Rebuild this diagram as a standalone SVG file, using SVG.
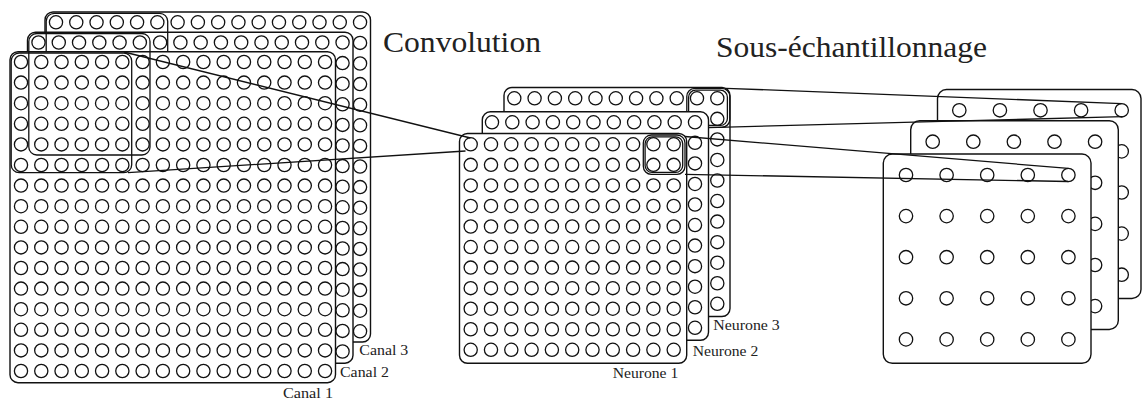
<svg xmlns="http://www.w3.org/2000/svg" xmlns:xlink="http://www.w3.org/1999/xlink" width="1142" height="401" viewBox="0 0 1142 401">
<style>
.c{fill:none;stroke:#111;stroke-width:1.3}
.layer{fill:#fff;stroke:#111;stroke-width:1.4}
.win{fill:none;stroke:#111;stroke-width:1.3}
.ln{fill:none;stroke:#111;stroke-width:1.3}
.t{font-family:"Liberation Serif","DejaVu Serif",serif;fill:#222}
.big{font-size:29.5px}
.sm{font-size:14.5px}
</style>
<defs>
<g id="row16">
<circle class="c" cx="0" cy="0" r="6.6"/><circle class="c" cx="20.27" cy="0" r="6.6"/><circle class="c" cx="40.54" cy="0" r="6.6"/><circle class="c" cx="60.81" cy="0" r="6.6"/><circle class="c" cx="81.08" cy="0" r="6.6"/><circle class="c" cx="101.35" cy="0" r="6.6"/><circle class="c" cx="121.62" cy="0" r="6.6"/><circle class="c" cx="141.89" cy="0" r="6.6"/><circle class="c" cx="162.16" cy="0" r="6.6"/><circle class="c" cx="182.43" cy="0" r="6.6"/><circle class="c" cx="202.7" cy="0" r="6.6"/><circle class="c" cx="222.97" cy="0" r="6.6"/><circle class="c" cx="243.24" cy="0" r="6.6"/><circle class="c" cx="263.51" cy="0" r="6.6"/><circle class="c" cx="283.78" cy="0" r="6.6"/><circle class="c" cx="304.05" cy="0" r="6.6"/>
</g>
<g id="grid16">
<use xlink:href="#row16" y="0"/><use xlink:href="#row16" y="20.6"/><use xlink:href="#row16" y="41.2"/><use xlink:href="#row16" y="61.8"/><use xlink:href="#row16" y="82.4"/><use xlink:href="#row16" y="103"/><use xlink:href="#row16" y="123.6"/><use xlink:href="#row16" y="144.2"/><use xlink:href="#row16" y="164.8"/><use xlink:href="#row16" y="185.4"/><use xlink:href="#row16" y="206"/><use xlink:href="#row16" y="226.6"/><use xlink:href="#row16" y="247.2"/><use xlink:href="#row16" y="267.8"/><use xlink:href="#row16" y="288.4"/><use xlink:href="#row16" y="309"/>
</g>
<g id="row11">
<circle class="c" cx="0" cy="0" r="6.6"/><circle class="c" cx="20.3" cy="0" r="6.6"/><circle class="c" cx="40.6" cy="0" r="6.6"/><circle class="c" cx="60.9" cy="0" r="6.6"/><circle class="c" cx="81.2" cy="0" r="6.6"/><circle class="c" cx="101.5" cy="0" r="6.6"/><circle class="c" cx="121.8" cy="0" r="6.6"/><circle class="c" cx="142.1" cy="0" r="6.6"/><circle class="c" cx="162.4" cy="0" r="6.6"/><circle class="c" cx="182.7" cy="0" r="6.6"/><circle class="c" cx="203" cy="0" r="6.6"/>
</g>
<g id="grid11">
<use xlink:href="#row11" y="0"/><use xlink:href="#row11" y="20.55"/><use xlink:href="#row11" y="41.1"/><use xlink:href="#row11" y="61.65"/><use xlink:href="#row11" y="82.2"/><use xlink:href="#row11" y="102.75"/><use xlink:href="#row11" y="123.3"/><use xlink:href="#row11" y="143.85"/><use xlink:href="#row11" y="164.4"/><use xlink:href="#row11" y="184.95"/><use xlink:href="#row11" y="205.5"/>
</g>
<g id="row5">
<circle class="c" cx="0" cy="0" r="6.7"/><circle class="c" cx="40.6" cy="0" r="6.7"/><circle class="c" cx="81.2" cy="0" r="6.7"/><circle class="c" cx="121.8" cy="0" r="6.7"/><circle class="c" cx="162.4" cy="0" r="6.7"/>
</g>
<g id="grid5">
<use xlink:href="#row5" y="0"/><use xlink:href="#row5" y="41.1"/><use xlink:href="#row5" y="82.2"/><use xlink:href="#row5" y="123.3"/><use xlink:href="#row5" y="164.4"/>
</g>
</defs>

<rect width="1142" height="401" fill="#fff"/>

<text class="t big" x="383" y="52" textLength="158" lengthAdjust="spacingAndGlyphs">Convolution</text>
<text class="t big" x="716" y="56.5" textLength="271" lengthAdjust="spacingAndGlyphs">Sous-échantillonnage</text>

<g id="canal3">
<rect class="layer" x="45" y="12" width="325.5" height="330" rx="8"/>
<use xlink:href="#grid16" x="56" y="22.3"/>
</g>
<g id="canal2">
<rect class="layer" x="27.5" y="32.2" width="325.5" height="331" rx="8"/>
<use xlink:href="#grid16" x="38.5" y="42.5"/>
</g>
<g id="window3">
<rect class="win" x="46.2" y="13.3" width="121.5" height="120.5" rx="8"/>
</g>
<g id="canal1">
<rect class="layer" x="10" y="51.7" width="325.5" height="331" rx="8"/>
<use xlink:href="#grid16" x="21" y="62"/>
</g>
<g id="window2">
<rect class="win" x="28.8" y="33.5" width="121.2" height="121.5" rx="8"/>
</g>
<g id="window1">
<rect class="win" x="11.2" y="53" width="120.5" height="119.7" rx="8"/>
</g>

<text class="t sm" x="359.3" y="355" textLength="49" lengthAdjust="spacingAndGlyphs">Canal 3</text>
<text class="t sm" x="340" y="376.5" textLength="49" lengthAdjust="spacingAndGlyphs">Canal 2</text>
<text class="t sm" x="283" y="398" textLength="50" lengthAdjust="spacingAndGlyphs">Canal 1</text>

<g id="neurone3">
<rect class="layer" x="504" y="87.5" width="226" height="229" rx="8"/>
<use xlink:href="#grid11" x="514.3" y="98.3"/>
<rect class="win" x="686.8" y="88.4" width="43" height="39" rx="8"/>
<rect class="win" x="688.6" y="90.2" width="38.8" height="35.2" rx="7"/>
</g>
<g id="neurone2">
<rect class="layer" x="482.3" y="111.8" width="226.2" height="228.5" rx="8"/>
<use xlink:href="#grid11" x="492" y="122.3"/>
</g>
<g id="neurone1">
<rect class="layer" x="459.5" y="133.5" width="227.2" height="229.8" rx="8"/>
<use xlink:href="#grid11" x="470.7" y="144.3"/>
<rect class="win" x="643.3" y="135" width="41.7" height="39.3" rx="8"/>
<rect class="win" x="645.1" y="136.8" width="37.6" height="35.6" rx="7"/>
</g>

<text class="t sm" x="713.3" y="330" textLength="66.5" lengthAdjust="spacingAndGlyphs">Neurone 3</text>
<text class="t sm" x="692.7" y="356" textLength="65.6" lengthAdjust="spacingAndGlyphs">Neurone 2</text>
<text class="t sm" x="612.7" y="377.5" textLength="65.6" lengthAdjust="spacingAndGlyphs">Neurone 1</text>

<g id="pool3">
<rect class="layer" x="937.5" y="89.5" width="203.5" height="209" rx="9"/>
<use xlink:href="#grid5" x="959.3" y="110.3"/>
</g>
<g id="pool2">
<rect class="layer" x="910.7" y="120.7" width="207.6" height="208.8" rx="9"/>
<use xlink:href="#grid5" x="932.7" y="141.7"/>
</g>
<g id="pool1">
<rect class="layer" x="883.3" y="154" width="207.7" height="209.3" rx="9"/>
<use xlink:href="#grid5" x="906" y="175"/>
</g>

<g id="connectors">
<line class="ln" x1="124" y1="52" x2="470.5" y2="138"/>
<line class="ln" x1="128" y1="172.7" x2="465.5" y2="151"/>
<line class="ln" x1="726" y1="88.3" x2="1121.7" y2="103.6"/>
<line class="ln" x1="708.5" y1="127.6" x2="1122.5" y2="116.7"/>
<line class="ln" x1="685" y1="136.5" x2="1068.3" y2="168.4"/>
<line class="ln" x1="685" y1="174.3" x2="1068.3" y2="181.5"/>
</g>
</svg>
